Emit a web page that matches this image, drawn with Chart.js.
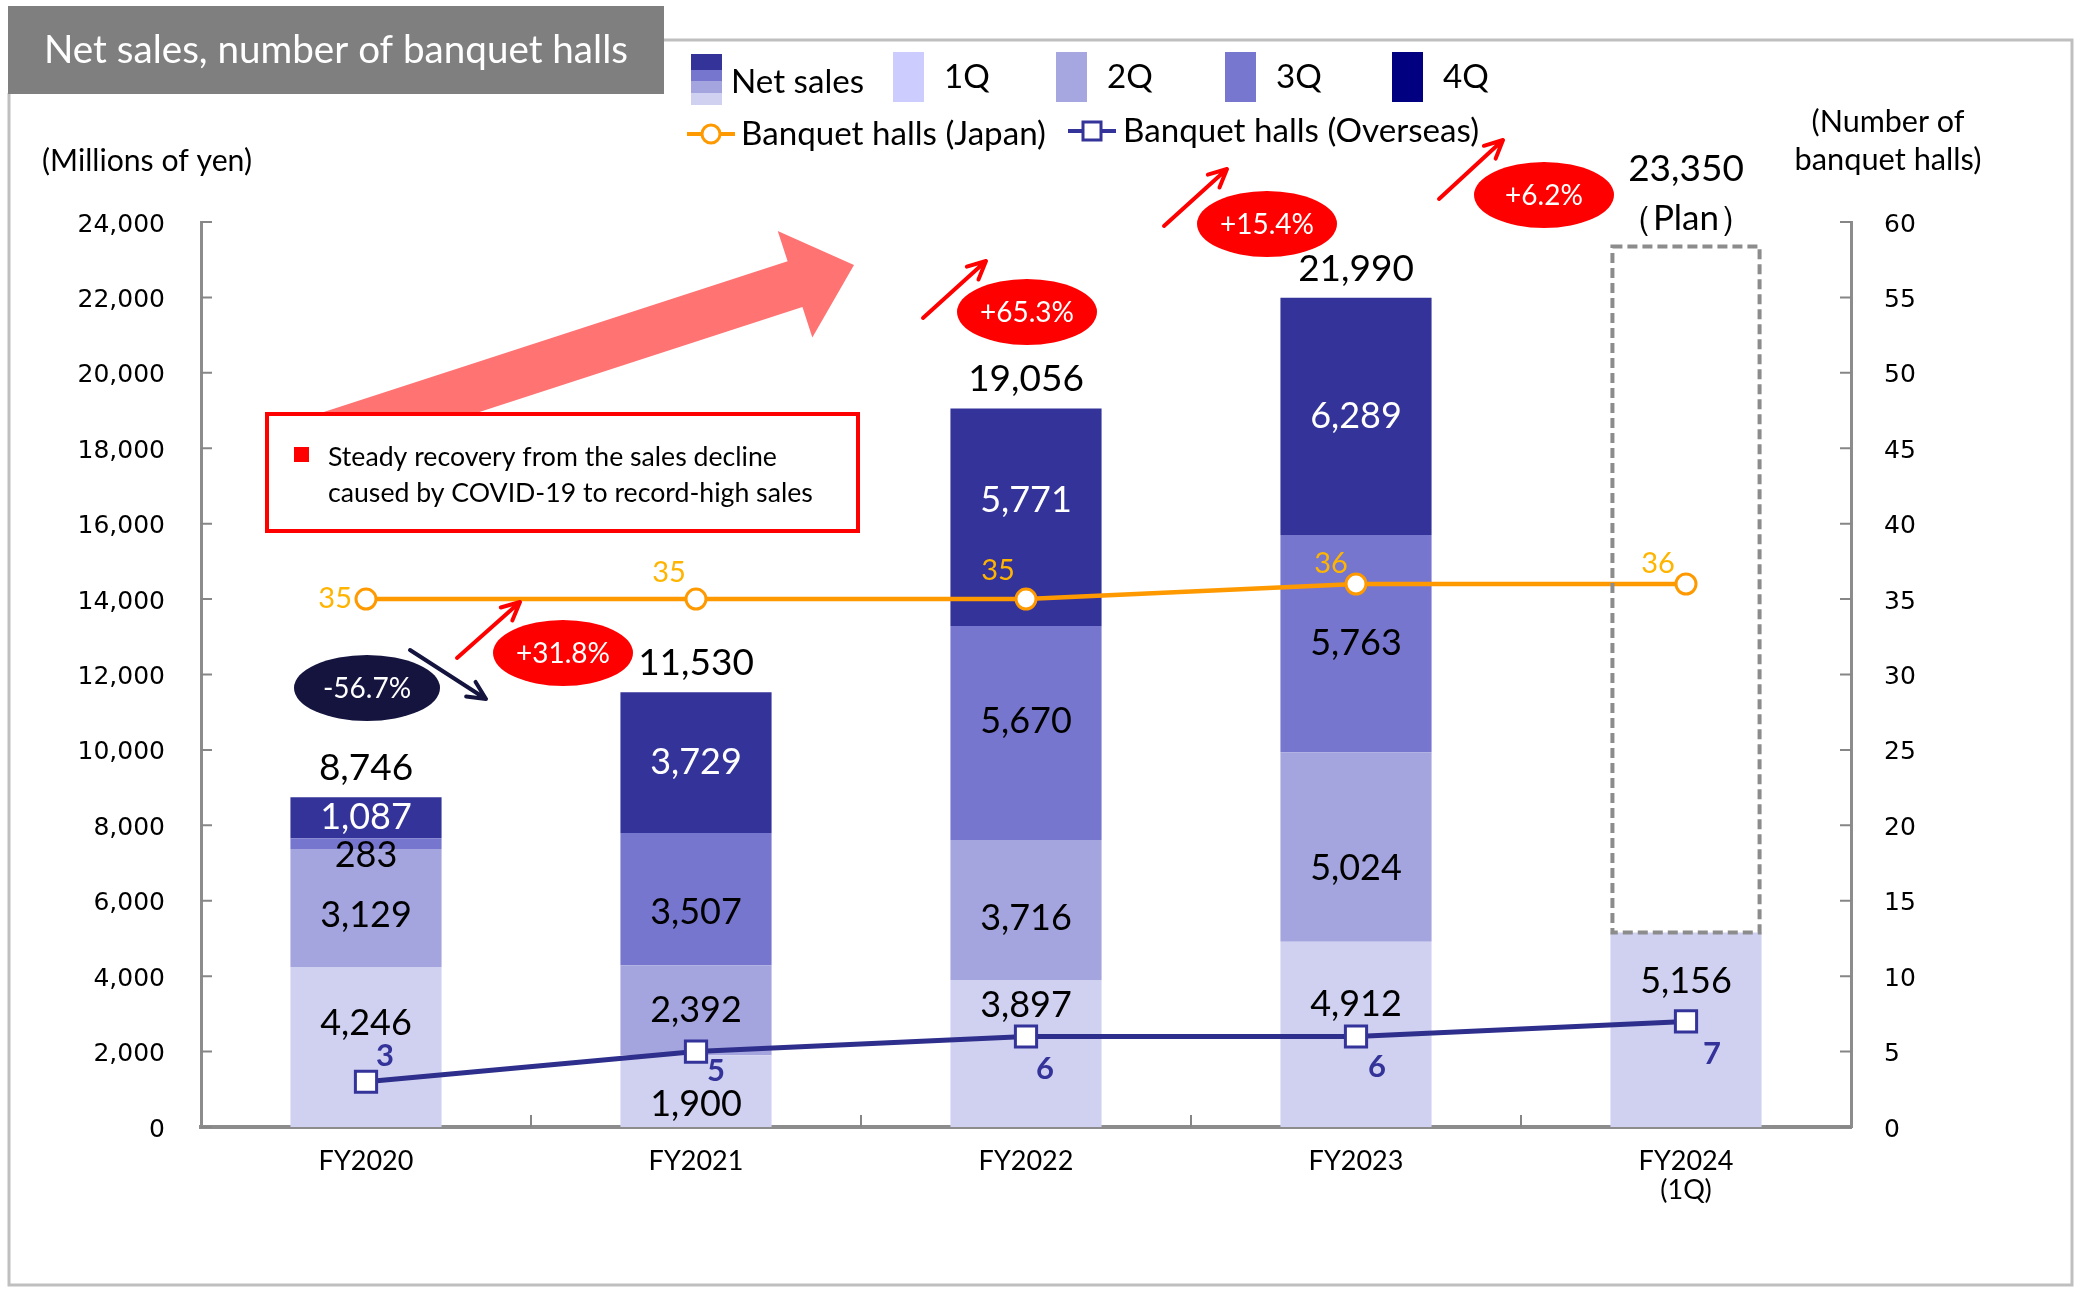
<!DOCTYPE html>
<html><head><meta charset="utf-8">
<script src="https://cdn.jsdelivr.net/npm/chart.js@4.4.1/dist/chart.umd.min.js"></script>
<style>html,body{margin:0;padding:0;background:#fff;}canvas{display:block;}</style>
</head><body>
<canvas id="c" width="2076" height="1290"></canvas>
<script>
// ---------- data ----------
const categories = ['FY2020', 'FY2021', 'FY2022', 'FY2023', ['FY2024', '(1Q)']];
const sales1Q = [4246, 1900, 3897, 4912, 5156];
const sales2Q = [3129, 2392, 3716, 5024, null];
const sales3Q = [283, 3507, 5670, 5763, null];
const sales4Q = [1087, 3729, 5771, 6289, null];
const salesTotal = [8746, 11530, 19056, 21990, null];
const planTotal = [null, null, null, null, 23350];
const hallsJapan = [35, 35, 35, 36, 36];
const hallsOverseas = [3, 5, 6, 6, 7];
const salesTicks = [0, 2000, 4000, 6000, 8000, 10000, 12000, 14000, 16000, 18000, 20000, 22000, 24000];
const hallTicks = [0, 5, 10, 15, 20, 25, 30, 35, 40, 45, 50, 55, 60];
const growthLabels = ['-56.7%', '+31.8%', '+65.3%', '+15.4%', '+6.2%'];

// ---------- style ----------
const CAL = 'Lato, "Open Sans", sans-serif';
const TICKF = '"DejaVu Sans", Verdana, sans-serif';
const barColors = ['#D0D1F0', '#A4A4DE', '#7676CE', '#333399'];
const legendColors = ['#CCCCFF', '#A6A6E0', '#7777D0', '#000080'];
const segLabelColor = ['#000', '#000', '#000', '#fff'];
const segShift = [[-24, 13, -48, -30, -48], [7, 0, 8, 21, 0], [12, 13, -12, 0, 0], [0, 0, -17, 0, 0]];
const japanDx = [-14, -27, -28, -25, -28], japanDy = [0, -26, -28, -20, -20];
const overDx = [19, 20, 19, 21, 26], overDy = [-26, 19, 32, 30, 33];

function fitSize(ctx, text, family, weight, w) {
  ctx.font = weight + ' 100px ' + family;
  return 100 * w / ctx.measureText(text).width;
}
function txt(ctx, text, x, y, opt) {
  const size = opt.w ? fitSize(ctx, text, opt.family || CAL, opt.weight || '', opt.w) : opt.size;
  ctx.font = (opt.weight || '') + ' ' + size + 'px ' + (opt.family || CAL);
  ctx.fillStyle = opt.color || '#000';
  ctx.textAlign = opt.align || 'center';
  ctx.textBaseline = 'middle';
  ctx.fillText(text, x, y);
  return size;
}
function arrow(ctx, x1, y1, x2, y2, color) {
  const a = Math.atan2(y2 - y1, x2 - x1), h = 20;
  ctx.save();
  ctx.strokeStyle = color; ctx.lineWidth = 4; ctx.lineCap = 'round'; ctx.lineJoin = 'round';
  ctx.beginPath(); ctx.moveTo(x1, y1); ctx.lineTo(x2, y2);
  ctx.moveTo(x2 - h * Math.cos(a - 0.45), y2 - h * Math.sin(a - 0.45));
  ctx.lineTo(x2, y2);
  ctx.lineTo(x2 - h * Math.cos(a + 0.45), y2 - h * Math.sin(a + 0.45));
  ctx.stroke(); ctx.restore();
}
function ellipse(ctx, cx, cy, rx, ry, fill, label) {
  ctx.save(); ctx.fillStyle = fill;
  ctx.beginPath(); ctx.ellipse(cx, cy, rx, ry, 0, 0, Math.PI * 2); ctx.fill();
  txt(ctx, label, cx, cy + 1, {size: 28, color: '#fff'});
  ctx.restore();
}

const decor = {
  id: 'decor',
  beforeDraw(chart) {
    const ctx = chart.ctx;
    ctx.save();
    ctx.fillStyle = '#fff'; ctx.fillRect(0, 0, chart.width, chart.height);
    // frame
    ctx.strokeStyle = '#BFBFBF'; ctx.lineWidth = 3;
    ctx.beginPath();
    ctx.moveTo(663, 40); ctx.lineTo(2072, 40); ctx.lineTo(2072, 1285); ctx.lineTo(9, 1285); ctx.lineTo(9, 93);
    ctx.stroke();
    // title box
    ctx.fillStyle = '#7F7F7F'; ctx.fillRect(8, 6, 656, 88);
    txt(ctx, 'Net sales, number of banquet halls', 44, 51, {w: 584, color: '#fff', align: 'left'});
    // axis titles
    txt(ctx, '(Millions of yen)', 147, 161, {w: 210});
    txt(ctx, '(Number of', 1888, 122, {w: 153});
    txt(ctx, 'banquet halls)', 1888, 160, {w: 187});
    ctx.restore();
  },
  beforeDatasetsDraw(chart) {
    const ctx = chart.ctx, {x, y, y1} = chart.scales;
    ctx.save();
    // inward ticks
    ctx.strokeStyle = '#868686'; ctx.lineWidth = 2;
    ctx.beginPath();
    salesTicks.forEach(v => { const p = y.getPixelForValue(v); ctx.moveTo(y.right, p); ctx.lineTo(y.right + 11, p); });
    hallTicks.forEach(v => { const p = y1.getPixelForValue(v); ctx.moveTo(y1.left, p); ctx.lineTo(y1.left - 11, p); });
    for (let i = 1; i < categories.length; i++) {
      const px = (x.getPixelForValue(i - 1) + x.getPixelForValue(i)) / 2;
      ctx.moveTo(px, x.top); ctx.lineTo(px, x.top - 12);
    }
    ctx.stroke();
    // big arrow
    const ang = -18 * Math.PI / 180, ux = Math.cos(ang), uy = Math.sin(ang), nx = -uy, ny = ux;
    const T = [854, 265], L = 62, H = 56, S = 24, back = 520;
    const B = [T[0] - L * ux, T[1] - L * uy], St = [B[0] - back * ux, B[1] - back * uy];
    ctx.fillStyle = '#FF7373';
    ctx.beginPath();
    ctx.moveTo(St[0] - S * nx, St[1] - S * ny);
    ctx.lineTo(B[0] - S * nx, B[1] - S * ny);
    ctx.lineTo(B[0] - H * nx, B[1] - H * ny);
    ctx.lineTo(T[0], T[1]);
    ctx.lineTo(B[0] + H * nx, B[1] + H * ny);
    ctx.lineTo(B[0] + S * nx, B[1] + S * ny);
    ctx.lineTo(St[0] + S * nx, St[1] + S * ny);
    ctx.closePath(); ctx.fill();
    // text box
    ctx.fillStyle = '#fff'; ctx.fillRect(267, 414, 591, 117);
    ctx.strokeStyle = '#FF0000'; ctx.lineWidth = 4; ctx.strokeRect(267, 414, 591, 117);
    ctx.fillStyle = '#FF0000'; ctx.fillRect(294, 447, 15, 15);
    const fs = fitSize(ctx, 'caused by COVID-19 to record-high sales', CAL, '', 485);
    txt(ctx, 'Steady recovery from the sales decline', 328, 457, {size: fs, align: 'left'});
    txt(ctx, 'caused by COVID-19 to record-high sales', 328, 493, {size: fs, align: 'left'});
    ctx.restore();
  },
  afterDatasetsDraw(chart) {
    const ctx = chart.ctx, {x, y, y1} = chart.scales;
    ctx.save();
    const series = [sales1Q, sales2Q, sales3Q, sales4Q];
    const barMeta = chart.getDatasetMeta(2);
    // plan dashed box
    planTotal.forEach((v, i) => {
      if (v == null) return;
      const el = barMeta.data[i];
      const top = y.getPixelForValue(v), bot = y.getPixelForValue(sales1Q[i]);
      ctx.save(); ctx.strokeStyle = '#8C8C8C'; ctx.lineWidth = 4; ctx.setLineDash([10, 5]);
      ctx.strokeRect(el.x - el.width / 2 + 2, top, el.width - 4, bot - top);
      ctx.restore();
      txt(ctx, v.toLocaleString('en-US'), el.x, top - 77, {size: 37});
      txt(ctx, '（Plan）', el.x, top - 28, {size: 35});
    });
    // segment labels
    series.forEach((s, k) => {
      s.forEach((v, i) => {
        if (v == null) return;
        const base = series.slice(0, k).reduce((a, arr) => a + (arr[i] || 0), 0);
        const yc = (y.getPixelForValue(base) + y.getPixelForValue(base + v)) / 2 + segShift[k][i];
        txt(ctx, v.toLocaleString('en-US'), x.getPixelForValue(i), yc, {size: 36, color: segLabelColor[k]});
      });
    });
    // totals
    salesTotal.forEach((v, i) => {
      if (v == null) return;
      txt(ctx, v.toLocaleString('en-US'), x.getPixelForValue(i), y.getPixelForValue(v) - 29, {size: 37});
    });
    // line labels
    hallsJapan.forEach((v, i) => {
      const px = x.getPixelForValue(i), py = y1.getPixelForValue(v);
      txt(ctx, String(v), px + japanDx[i], py + japanDy[i], {size: 29, color: '#FFB400', align: i === 0 ? 'right' : 'center'});
    });
    hallsOverseas.forEach((v, i) => {
      const px = x.getPixelForValue(i), py = y1.getPixelForValue(v);
      txt(ctx, String(v), px + overDx[i], py + overDy[i], {size: 31, weight: 'bold', color: '#333399'});
    });
    // growth ellipses & arrows
    ellipse(ctx, 367, 688, 73, 33, '#14143F', growthLabels[0]);
    arrow(ctx, 410, 650, 486, 699, '#14143F');
    ellipse(ctx, 563, 653, 70, 33, '#FF0000', growthLabels[1]);
    arrow(ctx, 457, 658, 520, 602, '#FF0000');
    ellipse(ctx, 1027, 312, 70, 33, '#FF0000', growthLabels[2]);
    arrow(ctx, 923, 318, 986, 261, '#FF0000');
    ellipse(ctx, 1267, 224, 70, 33, '#FF0000', growthLabels[3]);
    arrow(ctx, 1164, 226, 1227, 169, '#FF0000');
    ellipse(ctx, 1544, 195, 70, 33, '#FF0000', growthLabels[4]);
    arrow(ctx, 1439, 199, 1503, 140, '#FF0000');
    // legend
    const icon = [[54, 70, barColors[3]], [70, 81, barColors[2]], [81, 93, barColors[1]], [93, 105, barColors[0]]];
    icon.forEach(([a, b, c]) => { ctx.fillStyle = c; ctx.fillRect(691, a, 31, b - a); });
    const lfs = fitSize(ctx, 'Banquet halls (Japan)', CAL, '', 305);
    txt(ctx, 'Net sales', 731, 82, {size: lfs, align: 'left'});
    const qx = [893, 1056, 1225, 1392], ql = ['1Q', '2Q', '3Q', '4Q'];
    qx.forEach((xx, k) => {
      ctx.fillStyle = legendColors[k]; ctx.fillRect(xx, 52, 31, 50);
      txt(ctx, ql[k], xx + 51, 77, {size: lfs, align: 'left'});
    });
    ctx.lineWidth = 4; ctx.strokeStyle = '#FF9900';
    ctx.beginPath(); ctx.moveTo(687, 134); ctx.lineTo(735, 134); ctx.stroke();
    ctx.fillStyle = '#fff'; ctx.lineWidth = 3;
    ctx.beginPath(); ctx.arc(711, 134, 9, 0, Math.PI * 2); ctx.fill(); ctx.stroke();
    txt(ctx, 'Banquet halls (Japan)', 741, 134, {size: lfs, align: 'left'});
    ctx.strokeStyle = '#333399'; ctx.lineWidth = 4;
    ctx.beginPath(); ctx.moveTo(1068, 131); ctx.lineTo(1116, 131); ctx.stroke();
    ctx.fillStyle = '#fff'; ctx.lineWidth = 3;
    ctx.fillRect(1083, 122, 18, 18); ctx.strokeRect(1083, 122, 18, 18);
    txt(ctx, 'Banquet halls (Overseas)', 1123, 131, {size: lfs, align: 'left'});
    ctx.restore();
  }
};

const barDs = (label, data, color) => ({
  type: 'bar', label, data, backgroundColor: color, borderWidth: 0,
  xAxisID: 'x', yAxisID: 'y', stack: 's', order: 2,
  barPercentage: 0.458, categoryPercentage: 1
});

new Chart(document.getElementById('c'), {
  data: {
    labels: categories,
    datasets: [
      {type: 'line', label: 'Banquet halls (Japan)', data: hallsJapan, yAxisID: 'y1', order: 0,
        borderColor: '#FF9900', borderWidth: 4.5, pointStyle: 'circle', pointRadius: 10,
        pointBorderWidth: 3, pointBackgroundColor: '#fff', pointBorderColor: '#FF9900', tension: 0},
      {type: 'line', label: 'Banquet halls (Overseas)', data: hallsOverseas, yAxisID: 'y1', order: 0,
        borderColor: '#2E2E8C', borderWidth: 5, pointStyle: 'rect', pointRadius: 15,
        pointBorderWidth: 3, pointBackgroundColor: '#fff', pointBorderColor: '#333399', tension: 0},
      barDs('1Q', sales1Q, barColors[0]),
      barDs('2Q', sales2Q, barColors[1]),
      barDs('3Q', sales3Q, barColors[2]),
      barDs('4Q', sales4Q, barColors[3])
    ]
  },
  options: {
    responsive: false, animation: false, devicePixelRatio: 1,
    layout: {padding: {top: 222, left: 0, right: 0, bottom: 0}},
    plugins: {legend: {display: false}, tooltip: {enabled: false}},
    scales: {
      x: {
        stacked: true, offset: true,
        grid: {display: false, drawTicks: false},
        border: {display: true, color: '#8C8C8C', width: 4},
        ticks: {color: '#000', font: {family: CAL, size: 27, lineHeight: 1.08}, padding: 20, maxRotation: 0, autoSkip: false},
        afterFit: s => { s.height = 163; }
      },
      y: {
        position: 'left', stacked: true, min: 0, max: 24000,
        grid: {display: false, drawTicks: false},
        border: {display: true, color: '#8C8C8C', width: 3},
        ticks: {color: '#000', font: {family: TICKF, size: 25}, padding: 36, labelOffset: 3,
          callback: v => v.toLocaleString('en-US')},
        afterBuildTicks: s => { s.ticks = salesTicks.map(v => ({value: v})); },
        afterFit: s => { s.width = 201; }
      },
      y1: {
        position: 'right', min: 0, max: 60,
        grid: {display: false, drawTicks: false},
        border: {display: true, color: '#8C8C8C', width: 3},
        ticks: {color: '#000', font: {family: TICKF, size: 25}, padding: 33, labelOffset: 3},
        afterBuildTicks: s => { s.ticks = hallTicks.map(v => ({value: v})); },
        afterFit: s => { s.width = 225; }
      }
    }
  },
  plugins: [decor]
});
</script>
</body></html>
